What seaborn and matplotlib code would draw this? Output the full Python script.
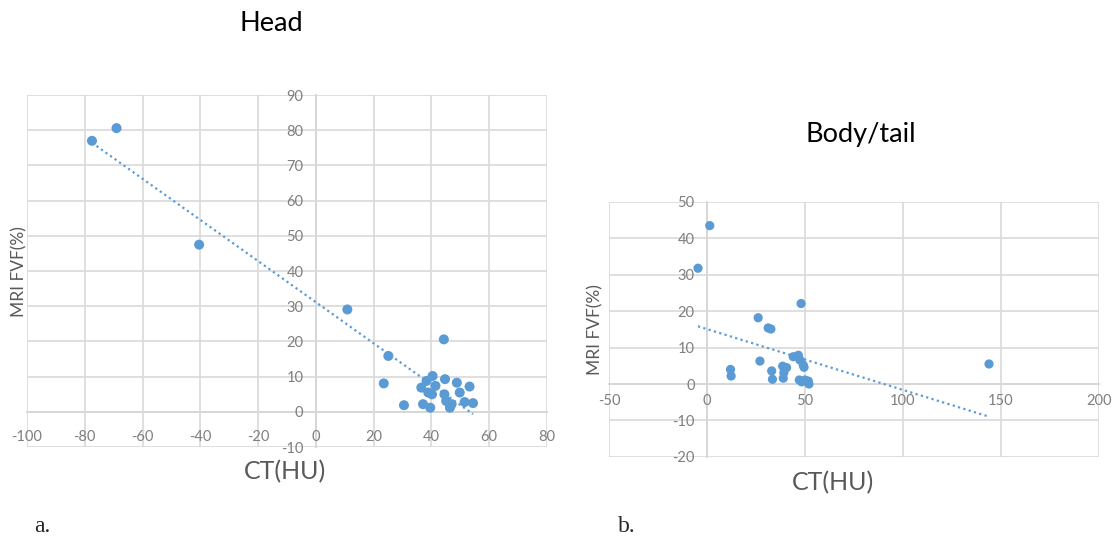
#---------------------------------------------------------------
"""
CT attenuation (HU) vs MRI fat volume fraction (%) for the
pancreatic head (a) and body/tail (b), with linear trend lines.
"""
#---------------------------------------------------------------
import matplotlib
matplotlib.use('Agg')
import matplotlib.pyplot as plt
import numpy as np
import seaborn as sns


#---------------------------------------------------------------
# panel a: head
head_ct = [-77.5, -69.0, -40.4, 10.9, 25.1, 23.5, 30.5, 44.3,
           36.5, 37.1, 39.6, 40.4, 38.3, 38.9, 41.4, 40.2,
           44.7, 44.5, 45.1, 47.0, 48.8, 49.8, 46.4, 51.5, 53.2, 54.4]
head_fvf = [77.0, 80.6, 47.5, 29.1, 15.9, 8.1, 1.9, 20.6,
            6.9, 2.2, 1.2, 10.2, 8.8, 5.5, 7.4, 5.0,
            9.3, 5.0, 3.1, 2.2, 8.3, 5.5, 1.2, 2.8, 7.2, 2.5]

# panel b: body/tail
body_ct = [1.4, -4.6, 48.0, 26.1, 31.2, 32.6, 27.0, 12.0, 12.3,
           33.0, 33.4, 38.6, 40.6, 39.2, 38.9, 44.0, 46.6, 47.4,
           49.1, 49.5, 47.1, 48.3, 51.7, 52.0, 50.0, 143.9]
body_fvf = [43.5, 31.8, 22.1, 18.2, 15.4, 15.1, 6.3, 4.0, 2.2,
            3.6, 1.3, 4.9, 4.5, 3.1, 1.6, 7.5, 7.9, 6.6,
            5.2, 4.6, 1.1, 0.6, 0.8, 0.0, 1.1, 5.5]

head_xticks = np.arange(-100, 81, 20)
head_yticks = np.arange(-10, 91, 10)
body_xticks = np.arange(-50, 201, 50)
body_yticks = np.arange(-20, 51, 10)

BLUE = '#5B9BD5'
GRID = '#d9d9d9'
TICK = '#7f7f7f'
LABEL = '#595959'


#---------------------------------------------------------------
def style_axes(ax, xticks, yticks, xpad, ypad):
    ax.set_xlim(xticks[0], xticks[-1])
    ax.set_ylim(yticks[0], yticks[-1])
    ax.set_xticks(xticks)
    ax.set_yticks(yticks)
    ax.grid(True, color = GRID, lw = 1.2)
    ax.set_axisbelow(True)
    for side in ['top', 'right']:
        ax.spines[side].set_visible(False)
    ax.spines['left'].set_position(('data', 0))
    ax.spines['bottom'].set_position(('data', 0))
    for side in ['left', 'bottom']:
        ax.spines[side].set_color('#c8c8c8')
        ax.spines[side].set_linewidth(1.2)
        ax.spines[side].set_zorder(0.5)
    ax.tick_params(axis = 'x', length = 0, pad = xpad, labelsize = 10.5, labelcolor = TICK)
    ax.tick_params(axis = 'y', length = 0, pad = ypad, labelsize = 10.5, labelcolor = TICK)


#---------------------------------------------------------------
def panel(ax, x, y, size, xticks, yticks, xpad, ypad):
    sns.regplot(x = x, y = y, ax = ax, scatter = False, ci = None, truncate = True,
                line_kws = dict(color = BLUE, lw = 1.6, ls = (0, (1, 1.5))))
    sns.scatterplot(x = x, y = y, ax = ax, color = BLUE, s = size,
                    edgecolor = 'none', zorder = 3)
    style_axes(ax, xticks, yticks, xpad, ypad)


#---------------------------------------------------------------
def main():
    sns.set_theme(style = 'white')
    plt.rcParams['font.family'] = ['Lato', 'DejaVu Sans']
    plt.rcParams['axes.unicode_minus'] = False

    fig = plt.figure(figsize = (11.14, 5.4), dpi = 100)
    ax1 = fig.add_axes([0.0242, 0.172, 0.4668, 0.652])
    ax2 = fig.add_axes([0.5467, 0.154, 0.4398, 0.472])

    panel(ax1, head_ct, head_fvf, 52, head_xticks, head_yticks, 13, 9)
    panel(ax2, body_ct, body_fvf, 44, body_xticks, body_yticks, 7, 9)

    ax1.set_title('Head', x = 0.469, y = 1.182, pad = 0, fontsize = 19.5, color = 'black')
    ax2.set_title('Body/tail', x = 0.514, y = 1.235, pad = 0, fontsize = 19.5, color = 'black')

    for ax, xl in [(ax1, (0.496, -0.071)), (ax2, (0.457, -0.102))]:
        ax.set_xlabel('CT(HU)', fontsize = 18, color = LABEL)
        ax.set_ylabel('MRI FVF(%)', fontsize = 12.5, color = LABEL)
        ax.xaxis.set_label_coords(*xl)
        ax.xaxis.label.set_va('center')
    ax1.yaxis.set_label_coords(0.0, 0.5)
    ax2.yaxis.set_label_coords(-0.012, 0.5)

    fig.text(0.031, 0.015, 'a.', fontsize = 17, family = 'Liberation Serif')
    fig.text(0.555, 0.015, 'b.', fontsize = 17, family = 'Liberation Serif')

    fig.savefig('out.png', dpi = 100)


#---------------------------------------------------------------
if __name__ == '__main__':
    main()
